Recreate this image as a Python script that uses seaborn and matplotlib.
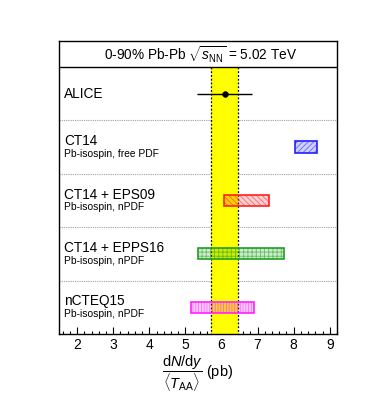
import matplotlib
matplotlib.use("Agg")
import matplotlib.pyplot as plt
import seaborn as sns
import pandas as pd
from matplotlib.ticker import MultipleLocator

# ---- data ----
models = ["CT14", "CT14 + EPS09", "CT14 + EPPS16", "nCTEQ15"]
subtitles = ["Pb-isospin, free PDF", "Pb-isospin, nPDF", "Pb-isospin, nPDF", "Pb-isospin, nPDF"]
model_low = [8.03, 6.08, 5.35, 5.16]
model_high = [8.66, 7.32, 7.74, 6.90]
model_colors = ["#2020ff", "#ff2020", "#20a020", "#ff20ff"]
model_hatches = ["//////", "\\\\\\\\\\\\", "++++", "||||||"]
alice_label = "ALICE"
alice_value = 6.09
alice_err_low = 5.32
alice_err_high = 6.85
band_low = 5.71
band_high = 6.47
header = r"0-90% Pb-Pb $\sqrt{s_{\mathrm{NN}}}$ = 5.02 TeV"
xticks = [2, 3, 4, 5, 6, 7, 8, 9]

sns.set_theme(style="white")
plt.rcParams["font.family"] = ["Liberation Sans", "DejaVu Sans"]
plt.rcParams["mathtext.fontset"] = "custom"
plt.rcParams["mathtext.rm"] = "Liberation Sans"
plt.rcParams["mathtext.it"] = "Liberation Sans:italic"
plt.rcParams["mathtext.bf"] = "Liberation Sans:bold"
plt.rcParams["hatch.linewidth"] = 0.6
plt.rcParams["text.color"] = "black"
plt.rcParams["axes.labelcolor"] = "black"
plt.rcParams["xtick.color"] = "black"

fig = plt.figure(figsize=(3.74, 3.98), dpi=100)
ax = fig.add_axes([0.158, 0.161, 0.743, 0.736])

n_rows = 1 + len(models)
ax.set_xlim(1.5, 9.2)
ax.set_ylim(n_rows, -0.487)

# yellow band
ax.fill_betweenx([0, n_rows], band_low, band_high, color="#ffff00", lw=0, zorder=1)
ax.vlines([band_low, band_high], 0, n_rows, colors="black", linestyles=(0, (1.5, 1.5)), lw=0.9, zorder=2)

# separators
ax.axhline(0, color="black", lw=1.0, zorder=3)
for i in range(1, n_rows):
    ax.axhline(i, color="#a0a0a0", lw=0.8, ls=(0, (1, 1)), zorder=0)

# ALICE point
df_alice = pd.DataFrame({"x": [alice_value], "y": [0.5]})
ax.hlines(0.5, alice_err_low, alice_err_high, color="black", lw=1.0, zorder=5)
sns.scatterplot(data=df_alice, x="x", y="y", color="black", s=18, ax=ax, zorder=6, edgecolor="black", legend=False)

# model boxes
df = pd.DataFrame({"model": models, "low": model_low, "high": model_high})
for i, row in df.iterrows():
    yc = i + 1.5
    c = model_colors[i]
    ax.barh(yc, row["high"] - row["low"], left=row["low"], height=0.21,
            color=c, alpha=0.22, lw=0, zorder=4)
    ax.barh(yc, row["high"] - row["low"], left=row["low"], height=0.21,
            facecolor="none", edgecolor=c, hatch=model_hatches[i], lw=0, alpha=0.6, zorder=4)
    ax.barh(yc, row["high"] - row["low"], left=row["low"], height=0.21,
            facecolor="none", edgecolor=c, lw=1.2, zorder=5)

# labels
ax.text(1.64, 0.5, alice_label, fontsize=9.8, va="center", ha="left", zorder=7)
for i, (m, s) in enumerate(zip(models, subtitles)):
    yc = i + 1.5
    ax.text(1.64, yc - 0.11, m, fontsize=9.8, va="center", ha="left")
    ax.text(1.64, yc + 0.125, s, fontsize=7.4, va="center", ha="left")

ax.text(5.42, -0.24, header, fontsize=9.8, ha="center", va="center")

# axes styling
ax.set_yticks([])
ax.set_xticks(xticks)
ax.xaxis.set_minor_locator(MultipleLocator(0.2))
ax.tick_params(axis="x", which="major", direction="in", length=5, width=0.8, labelsize=10, pad=3, bottom=True, top=False)
ax.tick_params(axis="x", which="minor", direction="in", length=2.5, width=0.8, bottom=True, top=False)
for sp in ax.spines.values():
    sp.set_color("black")
    sp.set_linewidth(1.0)
ax.set_xlabel(r"$\dfrac{\mathrm{d}N/\mathrm{d}y}{\langle T_{\mathrm{AA}}\rangle}$ (pb)", fontsize=10.5, labelpad=1)
ax.set_ylabel("")

fig.savefig("out.png", dpi=100)
